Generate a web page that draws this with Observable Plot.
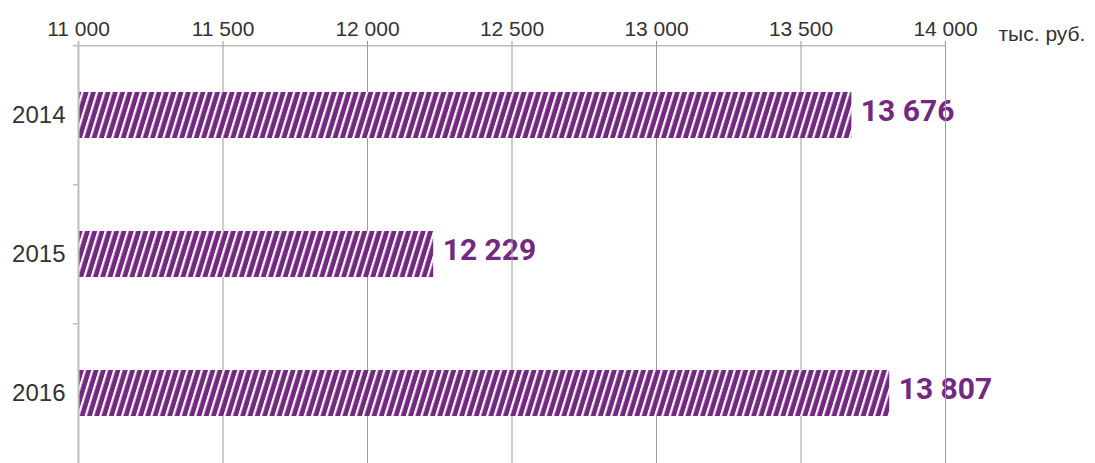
<!DOCTYPE html>
<html><head><meta charset="utf-8">
<script src="https://cdn.jsdelivr.net/npm/d3@7"></script>
<script src="https://cdn.jsdelivr.net/npm/@observablehq/plot@0.6"></script>
<style>body{margin:0;background:#fff}</style>
</head><body><div id="chart"></div>
<script>
const years = ["2014", "2015", "2016"];
const values = [13676, 12229, 13807];
const xTicks = [11000, 11500, 12000, 12500, 13000, 13500, 14000];
const unitLabel = "тыс. руб.";
const xDomain = [11000, 14000];

const data = years.map((year, i) => ({year, value: values[i]}));
const W = 1095, H = 463, mT = 45, mB = 0, mL = 78, mR = 150;
const step = (H - mT - mB) / years.length;
const fmt = v => d3.format(",")(v).replace(/,/g, " ");
const purple = "#742882";
const grid = "#9c9c9c";

const chart = Plot.plot({
  width: W, height: H,
  marginTop: mT, marginBottom: mB, marginLeft: mL, marginRight: mR,
  style: {fontFamily: "'Liberation Sans', Arial, sans-serif", background: "#fff", color: "#333"},
  x: {domain: xDomain, axis: null, label: null},
  y: {domain: years, paddingInner: 0.67, paddingOuter: 0.335, axis: null, label: null},
  marks: [
    Plot.text(data, {x: "value", y: "year", text: d => fmt(d.value), textAnchor: "start", dx: 9, dy: -4,
      fill: purple, fontSize: 30, fontWeight: 700, fontFamily: "Roboto"}),
    Plot.ruleX(xTicks.slice(1), {stroke: grid, strokeWidth: 1, insetTop: -4}),
    Plot.ruleY([years[0]], {dy: -step / 2, x1: () => xDomain[0], x2: () => xDomain[1], stroke: grid, insetLeft: -5}),
    Plot.ruleY(years.slice(1), {dy: -step / 2, x1: () => xDomain[0], x2: () => xDomain[0], stroke: grid, insetLeft: -5}),
    Plot.barX(data, {x1: () => xDomain[0], x2: "value", y: "year", fill: "url(#hatch)"}),
    Plot.ruleX([xDomain[0]], {stroke: "#bdbdbd", strokeWidth: 2, insetTop: -4}),
    Plot.axisX(xTicks, {anchor: "top", label: null, tickSize: 0, tickPadding: 10, tickFormat: fmt, fontSize: 21, fill: "#333"}),
    Plot.axisY(years, {anchor: "left", label: null, tickSize: 0, tickPadding: 13, fontSize: 24, fill: "#333"}),
    Plot.text([unitLabel], {text: d => d, frameAnchor: "top-right", dx: 53, dy: -19, textAnchor: "start", fontSize: 21, fill: "#333"})
  ]
});

const ns = "http://www.w3.org/2000/svg";
const defs = document.createElementNS(ns, "defs");
const pat = document.createElementNS(ns, "pattern");
pat.setAttribute("id", "hatch");
pat.setAttribute("patternUnits", "userSpaceOnUse");
pat.setAttribute("width", "7.3");
pat.setAttribute("height", "10");
pat.setAttribute("patternTransform", "skewX(-17)");
const r1 = document.createElementNS(ns, "rect");
r1.setAttribute("width", "7.3"); r1.setAttribute("height", "10"); r1.setAttribute("fill", purple);
const r2 = document.createElementNS(ns, "rect");
r2.setAttribute("width", "2.3"); r2.setAttribute("height", "10"); r2.setAttribute("fill", "#fff");
pat.appendChild(r1); pat.appendChild(r2);
defs.appendChild(pat);
chart.insertBefore(defs, chart.firstChild);
document.getElementById("chart").appendChild(chart);
</script>
</body></html>
